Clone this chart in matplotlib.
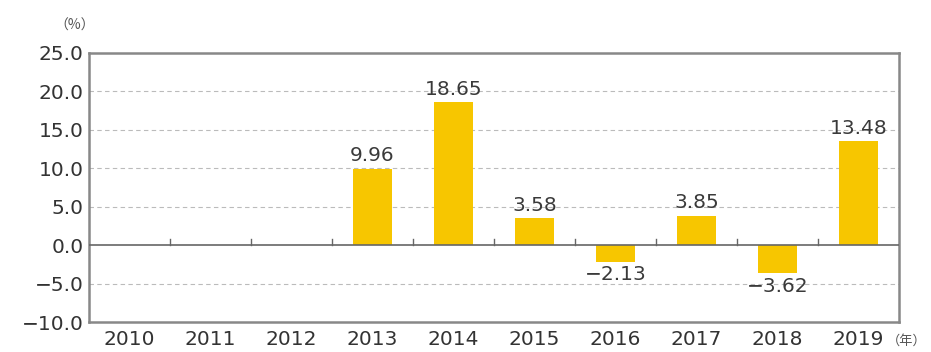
import numpy as np
import matplotlib.pyplot as plt

plt.rcParams['font.family'] = ['DejaVu Sans', 'Noto Sans CJK JP']

years = ["2010", "2011", "2012", "2013", "2014", "2015", "2016", "2017", "2018", "2019"]
growth = [np.nan, np.nan, np.nan, 9.96, 18.65, 3.58, -2.13, 3.85, -3.62, 13.48]
labels = ["", "", "", "9.96", "18.65", "3.58", "\u22122.13", "3.85", "\u22123.62", "13.48"]

fig = plt.figure(figsize=(9.31, 3.52), dpi=100)
ax = fig.add_axes([0.0956, 0.085, 0.8700, 0.765])

x = np.arange(len(years))
ax.bar(x, growth, width=0.48, color="#F7C600", zorder=3)

for xi, v, lab in zip(x, growth, labels):
    if np.isnan(v):
        continue
    if v >= 0:
        ax.text(xi, v + 0.4, lab, ha="center", va="bottom", fontsize=14.5, color="#3a3a3a", zorder=4)
    else:
        ax.text(xi, v - 0.5, lab, ha="center", va="top", fontsize=14.5, color="#3a3a3a", zorder=4)

ax.set_xlim(-0.5, len(years) - 0.5)
ax.set_ylim(-10, 25)
ax.set_yticks(np.arange(-10, 26, 5))
ax.set_yticklabels([f"{t:.1f}".replace("-", "\u2212") for t in np.arange(-10, 26, 5)])
ax.set_xticks(x)
ax.set_xticklabels(years)
ax.tick_params(axis="both", length=0, labelsize=14.5, colors="#333333")
ax.tick_params(axis="x", pad=6)
ax.tick_params(axis="y", pad=4)

for y in [-5, 5, 10, 15, 20]:
    ax.axhline(y, color="#BBBBBB", linestyle=(0, (4, 3)), linewidth=0.8, zorder=1)
ax.axhline(0, color="#666666", linewidth=1.2, zorder=4)
# small ticks between categories on the zero line
for b in x[:-1] + 0.5:
    ax.plot([b, b], [0, 0.8], color="#666666", linewidth=1.0, zorder=4)

for s in ax.spines.values():
    s.set_color("#888888")
    s.set_linewidth(1.8)

fig.text(0.058, 0.915, "（%）", fontsize=10, color="#555555", family=['Noto Sans CJK JP', 'DejaVu Sans'])
fig.text(0.953, 0.022, "（年）", fontsize=9.5, color="#555555", family=['Noto Sans CJK JP', 'DejaVu Sans'])

fig.savefig("out.png", dpi=100)
